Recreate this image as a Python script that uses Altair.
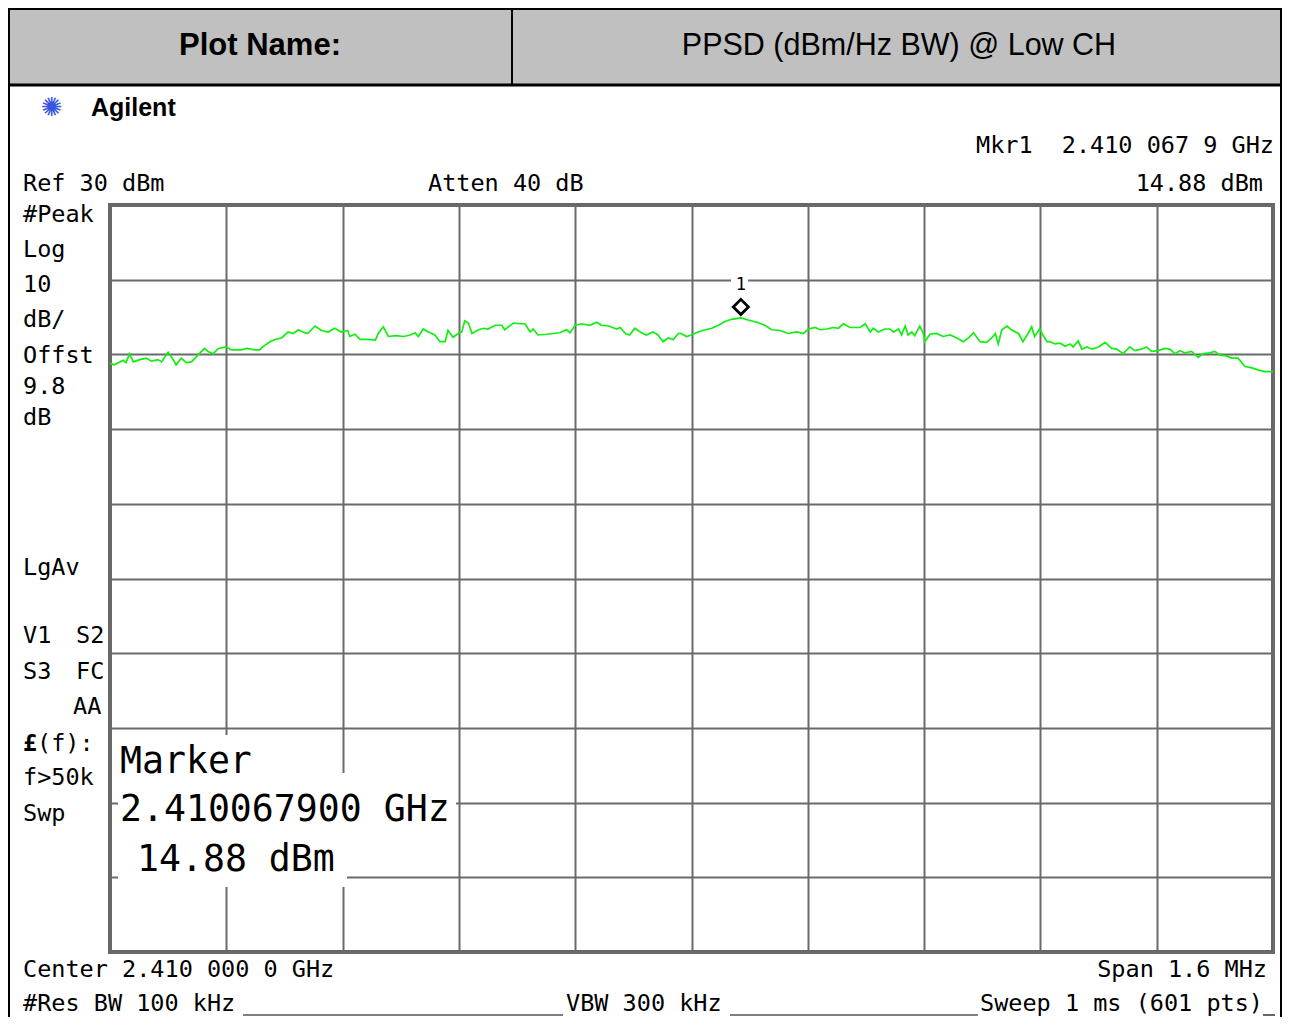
import altair as alt
import pandas as pd

# ---------------- data ----------------
freq_khz = [
    -800, -794, -782, -778, -773, -768, -759, -750, -743, -734, -729, -720, -713, -709, -702, -695, -688, -679, -670, -665,
    -658, -651, -640, -633, -619, -612, -601, -594, -590, -580, -573, -564, -555, -548, -541, -535, -528, -518, -509, -500,
    -491, -482, -473, -470, -463, -456, -445, -435, -431, -424, -417, -406, -396, -387, -380, -376, -369, -362, -353, -346,
    -339, -335, -328, -321, -316, -312, -307, -302, -293, -286, -280, -270, -261, -257, -245, -236, -229, -222, -218, -211,
    -199, -190, -181, -172, -167, -160, -151, -140, -130, -124, -114, -103, -98, -91, -85, -78, -69, -62, -53, -46,
    -39, -32, -25, -18, -14, -7, 0, 9, 19, 28, 37, 46, 55, 68, 78, 90, 101, 110, 122, 133,
    145, 154, 161, 170, 177, 186, 195, 202, 209, 218, 232, 239, 246, 250, 257, 266, 273, 278, 285, 289,
    294, 298, 303, 307, 314, 319, 321, 328, 337, 346, 356, 365, 374, 381, 388, 397, 406, 413, 418, 422,
    427, 434, 440, 450, 456, 463, 468, 472, 479, 484, 489, 493, 500, 507, 514, 521, 525, 532, 537, 544,
    551, 560, 569, 578, 585, 594, 603, 610, 619, 626, 633, 642, 651, 658, 665, 672, 679, 688, 697, 704,
    713, 720, 727, 736, 743, 752, 761, 771, 780, 789, 800,
]
level_dbm = [
    8.8, 8.6, 9.2, 8.9, 10.1, 9.0, 9.3, 9.5, 9.1, 9.3, 9.0, 10.3, 9.3, 8.6, 9.5, 8.9, 9.0, 9.9, 10.8, 10.4,
    10.1, 10.8, 11.0, 10.6, 10.6, 10.8, 10.6, 10.6, 11.0, 11.7, 12.0, 12.2, 13.0, 12.8, 13.3, 13.0, 12.8, 13.8, 13.2, 13.0,
    13.5, 13.0, 13.2, 12.4, 12.7, 12.0, 12.0, 11.9, 12.8, 13.7, 12.4, 12.5, 12.4, 12.6, 12.9, 12.4, 13.4, 13.0, 12.6, 11.7,
    11.7, 13.2, 12.3, 12.8, 13.0, 14.5, 14.2, 12.8, 13.3, 13.5, 13.4, 13.9, 13.9, 13.3, 14.2, 14.1, 14.1, 13.0, 13.4, 12.6,
    12.7, 12.8, 12.9, 13.3, 12.9, 13.9, 14.1, 13.9, 14.3, 13.9, 13.8, 13.4, 13.6, 12.8, 12.6, 13.5, 12.9, 12.6, 13.0, 12.6,
    11.7, 12.2, 12.0, 12.8, 12.8, 12.4, 12.6, 13.0, 13.3, 13.5, 13.9, 14.4, 14.7, 14.88, 14.6, 14.3, 13.9, 13.3, 13.2, 12.8,
    13.0, 12.8, 13.4, 13.6, 13.3, 13.4, 13.6, 13.5, 14.1, 13.6, 13.6, 14.1, 13.0, 13.5, 13.0, 13.4, 13.4, 13.0, 13.4, 12.6,
    13.8, 12.6, 13.0, 12.5, 13.8, 12.8, 11.7, 12.7, 12.8, 12.4, 12.6, 12.2, 11.7, 12.2, 12.9, 11.7, 11.6, 12.2, 12.8, 11.4,
    13.3, 13.8, 13.3, 12.8, 11.7, 12.8, 13.7, 12.4, 13.4, 12.5, 11.7, 11.7, 11.4, 11.5, 11.1, 11.4, 11.0, 11.8, 10.7, 11.0,
    10.7, 11.0, 11.6, 10.8, 10.7, 10.1, 11.0, 10.5, 10.7, 11.0, 10.4, 10.5, 10.8, 10.7, 10.1, 10.5, 10.2, 10.4, 9.6, 10.1,
    10.2, 10.4, 9.9, 9.8, 9.5, 9.5, 8.4, 8.2, 7.9, 7.7, 7.7,
]
marker_khz = [67.9]
marker_dbm = [14.88]

x_grid = list(range(-800, 801, 160))   # 10 divisions over 1.6 MHz span
y_grid = list(range(-70, 31, 10))      # Ref 30 dBm, 10 dB/div

header_left = "Plot Name:"
header_right = "PPSD (dBm/Hz BW) @ Low CH"
brand = "Agilent"
left_column = ["#Peak", "Log", "10", "dB/", "Offst", "9.8", "dB", "LgAv"]
marker_lines = ["Marker", "2.410067900 GHz", "14.88 dBm"]

# ---------------- layout ----------------
PLOT_W, PLOT_H = 1163, 747
X0, Y0 = 110, 205            # page position of the plot origin
SVG_W, SVG_H = 1274, 1009    # whole drawing, so the page does not overflow the window
PAD = {"left": X0 - 8, "top": Y0 - 8,
       "right": SVG_W - (X0 - 8) - PLOT_W, "bottom": SVG_H - (Y0 - 8) - PLOT_H}
RIGHT = 8 + SVG_W - 1        # right border of the frame

MONO = "DejaVu Sans Mono"
SANS = "Liberation Sans"
GRID = "#6a6a6a"

ONE = pd.DataFrame({"k": [0]})


def px(x):
    return x - X0


def py(y):
    return y - Y0


def label(text, x, y, size=23.5, align="left", font=MONO, weight="normal", color="black"):
    return alt.Chart(ONE).mark_text(
        text=text, align=align, baseline="middle", font=font, fontSize=size,
        fontWeight=weight, color=color,
    ).encode(x=alt.value(px(x)), y=alt.value(py(y)))


def box(x1, y1, x2, y2, fill="white", stroke="white", sw=0.0, fill_opacity=1.0):
    return alt.Chart(ONE).mark_rect(
        fill=fill, stroke=stroke, strokeWidth=sw, fillOpacity=fill_opacity,
    ).encode(x=alt.value(px(x1)), x2=alt.value(px(x2)), y=alt.value(py(y1)), y2=alt.value(py(y2)))


def rule(x1, y1, x2, y2, color="black", sw=1.5):
    return alt.Chart(ONE).mark_rule(color=color, strokeWidth=sw).encode(
        x=alt.value(px(x1)), x2=alt.value(px(x2)), y=alt.value(py(y1)), y2=alt.value(py(y2))
    )


trace_df = pd.DataFrame({"freq": freq_khz, "dbm": level_dbm})
mk_df = pd.DataFrame({"freq": marker_khz, "dbm": marker_dbm})

xs = alt.Scale(domain=[-800, 800], nice=False, zero=False)
ys = alt.Scale(domain=[-70, 30], nice=False, zero=False)
ax_common = dict(grid=True, labels=False, ticks=False, domain=False, title=None,
                 gridColor=GRID, gridWidth=2, gridOpacity=1)

trace = alt.Chart(trace_df).mark_line(color="#10f010", strokeWidth=1.7).encode(
    x=alt.X("freq:Q", scale=xs, axis=alt.Axis(values=x_grid, **ax_common)),
    y=alt.Y("dbm:Q", scale=ys, axis=alt.Axis(values=y_grid, **ax_common)),
)

marker_pt = alt.Chart(mk_df).mark_point(
    shape="diamond", filled=False, color="black", strokeWidth=2.8, size=230, yOffset=-11, opacity=1
).encode(x=alt.X("freq:Q", scale=xs), y=alt.Y("dbm:Q", scale=ys))
marker_num = alt.Chart(mk_df).mark_text(
    text="1", font=MONO, fontSize=17, color="black", dy=-33
).encode(x=alt.X("freq:Q", scale=xs), y=alt.Y("dbm:Q", scale=ys))

layers = [
    trace,
    # header table and outer frame (bottom edge falls below the window)
    box(9, 9, RIGHT, 85, fill="#c0c0c0", stroke="black", sw=2),
    rule(512, 9, 512, 85, sw=2),
    rule(9, 85, RIGHT, 85, sw=3),
    box(9, 9, RIGHT, 1040, fill="white", stroke="black", sw=2, fill_opacity=0),
    label(header_left, 260, 46, size=31, align="center", font=SANS, weight="bold"),
    label(header_right, 899, 46, size=30.5, align="center", font=SANS),
    # brand
    label("\u273a", 52, 108, size=26, align="center", font="DejaVu Sans", color="#3a55e0"),
    label(brand, 91, 108, size=25, font=SANS, weight="bold"),
    # top annotations
    label("Mkr1", 976, 146),
    label("2.410 067 9 GHz", 1274, 146, align="right"),
    label("Ref 30 dBm", 23, 184),
    label("Atten 40 dB", 428, 184),
    label("14.88 dBm", 1263, 184, align="right"),
    # bottom annotations
    label("Center 2.410 000 0 GHz", 23, 970),
    label("Span 1.6 MHz", 1267, 970, align="right"),
    label("#Res BW 100 kHz", 23, 1004),
    label("VBW 300 kHz", 566, 1004),
    label("Sweep 1 ms (601 pts)", 1263, 1004, align="right"),
    rule(243, 1015, 563, 1015, sw=1.2),
    rule(730, 1015, 978, 1015, sw=1.2),
    rule(1263, 1015, 1275, 1015, sw=1.2),
    # left column
    label("V1", 23, 636), label("S2", 76, 636),
    label("S3", 23, 672), label("FC", 76, 672),
    label("AA", 73, 707),
    label("\u00a3", 23, 744, weight="bold"), label("(f):", 37, 744),
    label("f>50k", 23, 778),
    label("Swp", 23, 814),
    # marker readout box
    box(118, 735, 247, 775),
    box(118, 773, 456, 832),
    box(118, 830, 347, 887),
    label(marker_lines[0], 120, 762, size=36.5),
    label(marker_lines[1], 120, 810, size=36.5),
    label(marker_lines[2], 137, 860, size=36.5),
    # marker
    box(731, 276, 748, 296),
    marker_pt,
    marker_num,
]
for txt, yy in zip(left_column, [215, 250, 285, 320, 356, 387, 418, 568]):
    layers.append(label(txt, 23, yy))

chart = alt.layer(*layers).properties(
    width=PLOT_W,
    height=PLOT_H,
    autosize=alt.AutoSizeParams(type="none"),
    padding=PAD,
    background="white",
).configure_view(stroke="#666666", strokeWidth=4)

chart.save("out.html", embed_options={"renderer": "svg", "actions": False})
